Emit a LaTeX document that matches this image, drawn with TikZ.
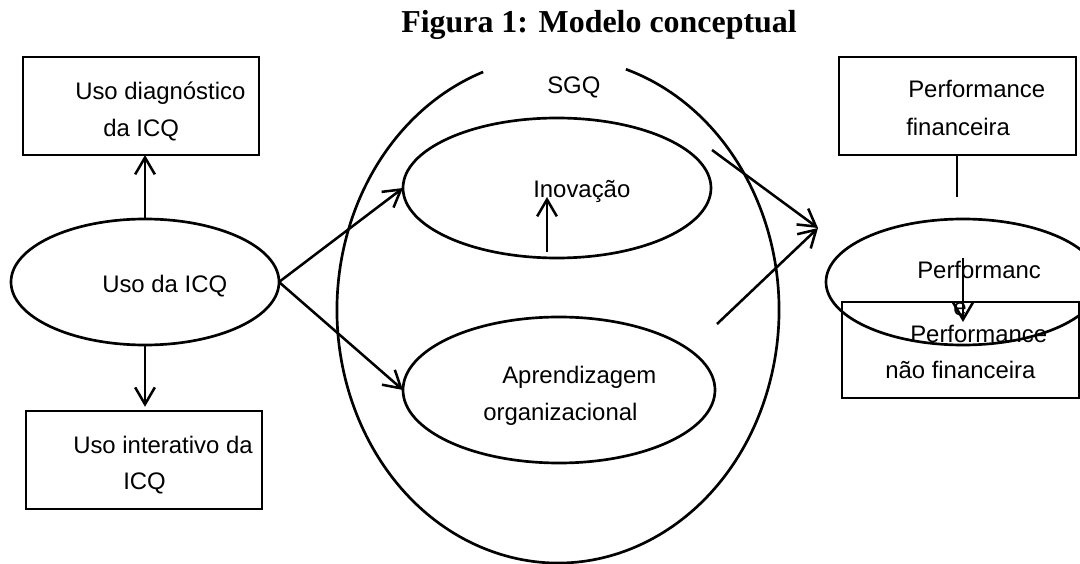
\documentclass[tikz,border=0pt]{standalone}
\usepackage{fontspec}
\setmainfont{Liberation Serif}
\setsansfont{Liberation Sans}
\usetikzlibrary{positioning,arrows.meta,shapes.geometric,calc}

\newcommand{\pxl}{0.025cm}

\tikzset{
  box/.style={draw,line width=1.2pt,inner sep=0pt,outer sep=0pt},
  oval/.style={draw,ellipse,line width=1.9pt,inner sep=0pt,outer sep=0pt},
  txt/.style={font=\sffamily\fontsize{17}{20}\selectfont,inner sep=0pt,anchor=base west},
  arr/.style={->,line width=1.8pt},
}

\begin{document}
\begin{tikzpicture}[x=\pxl,y=-\pxl,>={Straight Barb[length=12pt,width=14pt]}]
\useasboundingbox (0,0) rectangle (1080,564);

\node[font=\rmfamily\bfseries\fontsize{22.7}{26}\selectfont,inner sep=0pt,anchor=base] (title) at (599,33) {Figura 1: Modelo conceptual};

% SGQ, open at the top
\coordinate (sgqc) at (558,310);
\draw[line width=1.9pt] ($(sgqc)+(287.9:221 and 253)$) arc[start angle=287.9,end angle=610.2,x radius=221,y radius=253];
\node[txt] (tsgq) at (547,94) {SGQ};

% left side
\node[box,minimum width=236*\pxl,minimum height=98*\pxl] (diag) at (141,106) {};
\node[txt] (tdiag1) at (75,100) {Uso diagnóstico};
\node[txt] (tdiag2) at (103,137) {da ICQ};

\node[oval,minimum width=268*\pxl,minimum height=126*\pxl] (uso) at (145,282) {};
\node[txt] (tuso) at (102,293) {Uso da ICQ};

\node[box,minimum width=236*\pxl,minimum height=98*\pxl] (inter) at (144,460) {};
\node[txt] (tinter1) at (73,453) {Uso interativo da};
\node[txt] (tinter2) at (123,489) {ICQ};

% middle
\node[oval,minimum width=308*\pxl,minimum height=140*\pxl] (inov) at (557,188) {};
\node[txt] (tinov) at (533,198) {Inovação};

\node[oval,minimum width=312*\pxl,minimum height=146*\pxl] (aprend) at (559,390) {};
\node[txt] (taprend1) at (502,383) {Aprendizagem};
\node[txt] (taprend2) at (483,420) {organizacional};

% right side
\node[box,minimum width=237*\pxl,minimum height=98*\pxl] (fin) at (957.5,106) {};
\node[txt] (tfin1) at (908,98) {Performance};
\node[txt] (tfin2) at (906,136) {financeira};

\node[oval,minimum width=274*\pxl,minimum height=126*\pxl] (perf) at (963,282) {};
\node[txt] (tperf1) at (917,278) {Performanc};
\node[txt] (tperf2) at (953,315) {e};

\node[box,minimum width=237*\pxl,minimum height=96*\pxl] (nfin) at (960.5,350) {};
\node[txt] (tnfin1) at (910,343) {Performance};
\node[txt] (tnfin2) at (885,378) {não financeira};

% loose ends
\coordinate (inovfoot) at (547,252);
\coordinate (inovhead) at (547,197);
\coordinate (inovout) at (712,150);
\coordinate (aprout) at (717,324);
\coordinate (meet) at (818,228);
\coordinate (finend) at (957,197);
\coordinate (perftop) at (963,258);
\coordinate (perfhead) at (963,322);

\draw[arr] (uso.north) -- (uso.north |- diag.south);
\draw[arr,shorten >=3pt] (uso.south) -- (uso.south |- inter.north);
\draw[arr] (uso.east) -- (inov.west);
\draw[arr] (uso.east) -- (aprend.west);
\draw[arr] (inovfoot) -- (inovhead);
\draw[arr] (inovout) -- (meet);
\draw[arr] (aprout) -- (meet);
\draw[line width=1.8pt] (fin.south -| finend) -- (finend);
\draw[arr] (perftop) -- (perfhead);
\end{tikzpicture}
\end{document}
